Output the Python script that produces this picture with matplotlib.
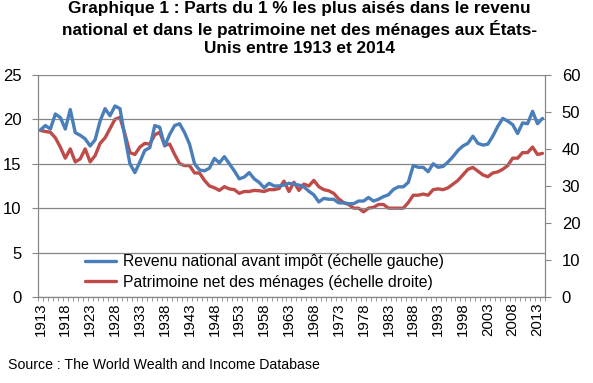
import matplotlib
matplotlib.use("Agg")
import matplotlib.pyplot as plt
import numpy as np

# Parts du 1 % les plus aisés, Etats-Unis, 1913-2014
years = list(range(1913, 2015))

revenu = [18.8, 19.3, 18.9, 20.6, 20.2, 18.9, 21.1, 18.5, 18.2, 17.8,
          17.0, 17.7, 19.8, 21.2, 20.4, 21.5, 21.2, 18.0, 15.0, 14.0,
          15.2, 16.5, 16.8, 19.3, 19.1, 17.0, 18.3, 19.3, 19.5, 18.5,
          17.2, 15.0, 14.3, 14.2, 14.5, 15.6, 15.1, 15.8, 15.0, 14.2,
          13.3, 13.5, 14.0, 13.3, 12.9, 12.3, 12.8, 12.5, 12.5, 12.6,
          12.8, 12.7, 12.6, 12.4, 11.9, 11.5, 10.7, 11.1, 11.0, 11.0,
          10.6, 10.6, 10.5, 10.5, 10.8, 10.8, 11.2, 10.8, 11.0, 11.3,
          11.5, 12.1, 12.4, 12.4, 12.9, 14.8, 14.6, 14.6, 14.1, 15.0,
          14.6, 14.7, 15.2, 15.8, 16.5, 17.0, 17.3, 18.1, 17.3, 17.1,
          17.2, 18.1, 19.2, 20.1, 19.8, 19.4, 18.4, 19.6, 19.5, 20.9,
          19.5, 20.1]

patrimoine = [45.0, 44.7, 44.5, 43.0, 40.5, 37.5, 40.0, 36.5, 37.3, 40.0,
              36.5, 38.2, 41.5, 43.0, 45.5, 48.0, 48.5, 44.0, 39.0, 38.5,
              40.5, 41.5, 41.3, 43.8, 44.5, 41.0, 41.3, 38.5, 36.0, 35.5,
              35.5, 33.5, 33.5, 31.5, 30.0, 29.5, 28.8, 29.8, 29.2, 29.0,
              28.0, 28.5, 28.5, 28.8, 28.7, 28.5, 29.0, 29.0, 29.3, 31.3,
              28.5, 31.0, 28.8, 30.5, 30.0, 31.5, 29.8, 29.0, 28.7, 28.0,
              26.5, 25.5, 25.0, 24.0, 24.0, 23.0, 24.0, 24.2, 25.0, 25.0,
              24.0, 24.0, 24.0, 24.0, 25.5, 27.5, 27.5, 27.8, 27.5, 29.0,
              29.2, 29.0, 29.5, 30.5, 31.5, 33.0, 34.5, 35.0, 34.0, 33.0,
              32.5, 33.5, 33.8, 34.5, 35.5, 37.5, 37.5, 39.0, 39.0, 40.5,
              38.5, 38.8]

BLUE, RED, GRID = "#4a7ebb", "#be4b48", "#868686"
plt.rcParams["font.family"] = ["Liberation Sans", "DejaVu Sans"]

fig = plt.figure(figsize=(5.93, 3.83), dpi=100)
ax = fig.add_axes([0.064, 0.2245, 0.855, 0.58])
ax2 = ax.twinx()

x = np.arange(len(years))
l1, = ax.plot(x, revenu, color=BLUE, lw=2.4, solid_capstyle="round",
              label="Revenu national avant impôt (échelle gauche)")
l2, = ax2.plot(x, patrimoine, color=RED, lw=2.4, solid_capstyle="round",
               label="Patrimoine net des ménages (échelle droite)")
ax.set_zorder(ax2.get_zorder() + 1)
ax.patch.set_visible(False)

ax.set_xlim(-0.5, len(years) - 0.5)
ax.set_ylim(0, 25)
ax2.set_ylim(0, 60)
ax.set_yticks(range(0, 26, 5))
ax2.set_yticks(range(0, 61, 10))
ax.yaxis.grid(True, color=GRID, lw=0.9)
ax.set_axisbelow(True)

ax.set_xticks(x[::5])
ax.set_xticklabels([str(y) for y in years[::5]], rotation=90)
ax.set_xticks(np.arange(-0.5, len(years), 1), minor=True)
ax.tick_params(axis="x", which="major", length=0, pad=4, labelsize=10.8)
ax.tick_params(axis="x", which="minor", length=3, color=GRID)
ax.tick_params(axis="y", labelsize=12, length=4, color=GRID, pad=8)
ax2.tick_params(axis="y", labelsize=12, length=4, color=GRID, pad=8)

for a in (ax, ax2):
    a.spines["top"].set_visible(False)
    for s in ("left", "right", "bottom"):
        a.spines[s].set_color(GRID)

ax.legend(handles=[l1, l2], loc="lower left", bbox_to_anchor=(0.065, -0.03),
          frameon=False, fontsize=11.3, handlelength=2.0, handletextpad=0.4,
          labelspacing=0.35)

fig.text(0.505, 0.997, "Graphique 1 : Parts du 1 % les plus aisés dans le revenu\n"
         "national et dans le patrimoine net des ménages aux États-\n"
         "Unis entre 1913 et 2014", ha="center", va="top",
         fontsize=12.4, fontweight="bold", linespacing=1.25)
fig.text(0.014, 0.028, "Source : The World Wealth and Income Database",
         fontsize=10.2, ha="left", va="bottom")

fig.savefig("out.png", dpi=100)
